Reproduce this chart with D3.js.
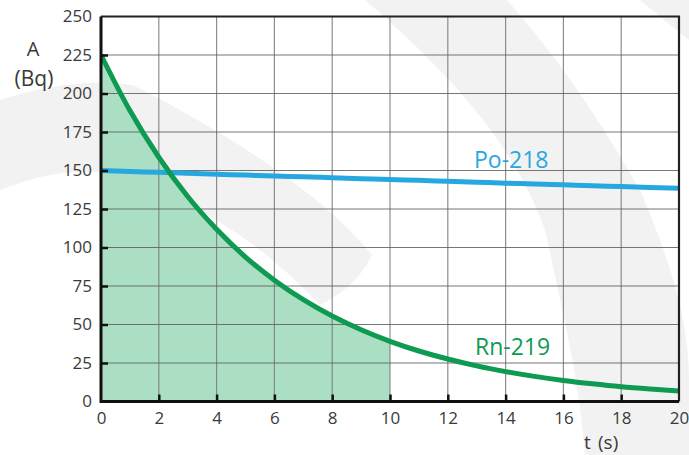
<!DOCTYPE html>
<html>
<head>
<meta charset="utf-8">
<script src="https://cdn.jsdelivr.net/npm/d3@7"></script>
<style>
  html, body { margin: 0; padding: 0; background: #fff; }
  svg { display: block; font-family: "Open Sans", sans-serif; }
</style>
</head>
<body>
<svg id="chart" width="689" height="455"></svg>
<script>
// ---- data ----
const times = [0,1,2,3,4,5,6,7,8,9,10,11,12,13,14,15,16,17,18,19,20];
const rn219 = [225,188.9,158.6,133.1,111.8,93.8,78.8,66.1,55.5,46.6,39.1,32.8,27.6,23.1,19.4,16.3,13.7,11.5,9.6,8.1,6.8];
const po218 = [150,149.4,148.8,148.2,147.6,147.0,146.4,145.9,145.3,144.7,144.1,143.6,143.0,142.4,141.8,141.3,140.7,140.1,139.6,139.0,138.5];
const xTicks = [0,2,4,6,8,10,12,14,16,18,20];
const yTicks = [0,25,50,75,100,125,150,175,200,225,250];
const shadeEnd = 10;
const seriesNames = ["Po-218", "Rn-219"];

// ---- layout ----
const svg = d3.select("#chart");
const m = {left: 101, top: 16.5, right: 679, bottom: 401.5};
const x = d3.scaleLinear().domain([0, 20]).range([m.left, m.right]);
const y = d3.scaleLinear().domain([0, 250]).range([m.bottom, m.top]);

// background watermark shapes
const wm = svg.append("g").attr("fill", "#f2f2f2");
wm.append("path").attr("d",
  "M0,100 C50,84 100,78 135,86 C220,130 320,190 372,255 C360,280 340,295 320,305 C260,240 180,190 100,172 C60,170 30,178 0,190 Z");
wm.append("path").attr("d",
  "M365,0 L507,0 C560,60 600,120 640,190 C670,260 689,320 689,380 L689,455 L585,455 C580,380 560,300 545,230 C520,160 470,90 365,0 Z");
wm.append("path").attr("d", "M640,0 L689,0 L689,40 C670,25 655,12 640,0 Z");

// shaded area under Rn-219 up to t = 10
const shadeData = times.map((t, i) => ({t, v: rn219[i]})).filter(d => d.t <= shadeEnd);
svg.append("path")
  .datum(shadeData)
  .attr("fill", "#abdfc4")
  .attr("d", d3.area().x(d => x(d.t)).y0(y(0)).y1(d => y(d.v)).curve(d3.curveMonotoneX));

// grid
const grid = svg.append("g");
grid.selectAll("line.v").data(xTicks.filter(d => d > 0 && d < 20)).join("line")
  .attr("x1", d => x(d)).attr("x2", d => x(d))
  .attr("y1", m.top).attr("y2", m.bottom)
  .attr("stroke", "#7a7a7a").attr("stroke-opacity", 0.85).attr("stroke-width", 1.2);
grid.selectAll("line.h").data(yTicks.filter(d => d > 0 && d < 250)).join("line")
  .attr("x1", m.left).attr("x2", m.right)
  .attr("y1", d => y(d)).attr("y2", d => y(d))
  .attr("stroke", "#5e5e5e").attr("stroke-opacity", 0.85).attr("stroke-width", 1.2);

// lines
svg.append("clipPath").attr("id", "clip")
  .append("rect").attr("x", m.left).attr("y", m.top)
  .attr("width", m.right - m.left).attr("height", m.bottom - m.top);
const lineGen = d3.line().x(d => x(d.t)).y(d => y(d.v)).curve(d3.curveMonotoneX);
const lines = svg.append("g").attr("clip-path", "url(#clip)");
lines.append("path").datum(times.map((t, i) => ({t, v: po218[i]})))
  .attr("fill", "none").attr("stroke", "#27a7df").attr("stroke-width", 5).attr("d", lineGen);
lines.append("path").datum(times.map((t, i) => ({t, v: rn219[i]})))
  .attr("fill", "none").attr("stroke", "#0f9a52").attr("stroke-width", 5).attr("d", lineGen);

// frame
svg.append("path")
  .attr("d", `M${m.left},${m.top}H${m.right}V${m.bottom}`)
  .attr("fill", "none").attr("stroke", "#222").attr("stroke-width", 2.2);
svg.append("path")
  .attr("d", `M${m.left},${m.top}V${m.bottom}H${m.right}`)
  .attr("fill", "none").attr("stroke", "#111").attr("stroke-width", 3);

// axes via d3 axis
const yAxis = svg.append("g").attr("transform", `translate(${m.left},0)`)
  .call(d3.axisLeft(y).tickValues(yTicks).tickSize(-7).tickPadding(9).tickFormat(d3.format("d")));
yAxis.select(".domain").remove();
yAxis.selectAll(".tick line").attr("stroke", "#111").attr("stroke-width", 2.5)
  .filter(d => d === 0 || d === 250).remove();
yAxis.selectAll(".tick text").attr("fill", "#3a3a3a").style("font-size", "17px")
  .attr("font-family", "Open Sans, sans-serif");

const xAxis = svg.append("g").attr("transform", `translate(0,${m.bottom})`)
  .call(d3.axisBottom(x).tickValues(xTicks).tickSize(-7).tickPadding(10).tickFormat(d3.format("d")));
xAxis.select(".domain").remove();
xAxis.selectAll(".tick line").attr("stroke", "#111").attr("stroke-width", 2.5)
  .filter(d => d === 0 || d === 20).remove();
xAxis.selectAll(".tick text").attr("fill", "#3a3a3a").style("font-size", "17px")
  .attr("font-family", "Open Sans, sans-serif");

// axis titles
svg.append("text").attr("x", 33).attr("y", 56).attr("text-anchor", "middle")
  .attr("fill", "#3a3a3a").style("font-size", "20px").text("A");
svg.append("text").attr("x", 34).attr("y", 86).attr("text-anchor", "middle")
  .attr("fill", "#3a3a3a").style("font-size", "21px").text("(Bq)");
const tl = svg.append("text").attr("y", 449).attr("fill", "#3a3a3a").style("font-size", "19px");
tl.append("tspan").attr("x", 584).text("t");
tl.append("tspan").attr("x", 598).text("(s)");

// series labels
svg.append("text").attr("x", 474).attr("y", 168)
  .attr("fill", "#27a7df").style("font-size", "23px").text(seriesNames[0]);
svg.append("text").attr("x", 475).attr("y", 355)
  .attr("fill", "#0f9a52").style("font-size", "23px").text(seriesNames[1]);
</script>
</body>
</html>
